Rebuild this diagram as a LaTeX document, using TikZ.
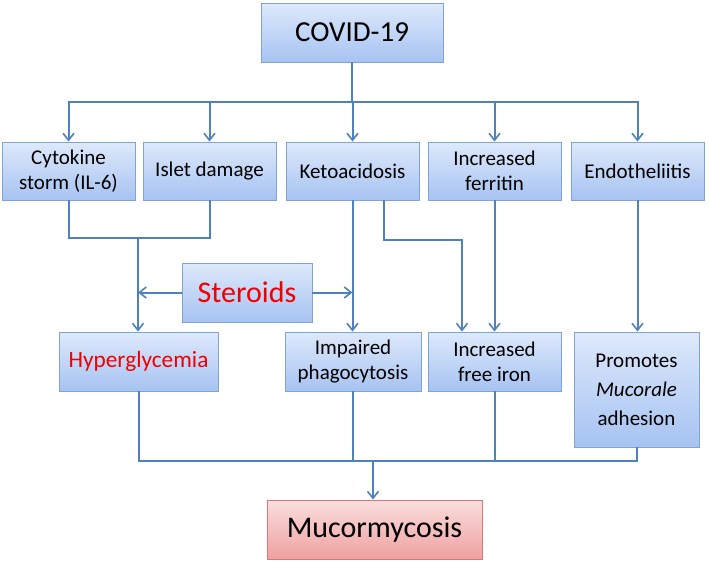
\documentclass[tikz,border=0pt]{standalone}
\usepackage{fontspec}
\setmainfont{Carlito}
\usetikzlibrary{arrows.meta}
\definecolor{linkblue}{RGB}{79,129,189}
\definecolor{boxtop}{RGB}{222,233,251}
\definecolor{boxbot}{RGB}{166,195,242}
\definecolor{boxline}{RGB}{128,163,210}
\definecolor{redtop}{RGB}{250,222,222}
\definecolor{redbot}{RGB}{240,160,160}
\definecolor{redline}{RGB}{214,120,120}
\definecolor{txtred}{RGB}{240,0,0}
\begin{document}
\begin{tikzpicture}[x=1pt,y=-1pt,
  bluebox/.style={draw=boxline,line width=0.9pt,top color=boxtop,bottom color=boxbot,align=center,inner sep=0pt,
    minimum width=133pt,minimum height=58pt,font=\fontsize{21}{25}\selectfont},
  pinkbox/.style={bluebox,draw=redline,top color=redtop,bottom color=redbot},
  link/.style={draw=linkblue,line width=2pt},
  arr/.style={link,-{Straight Barb[length=7pt,width=11pt,line width=1.6pt]}}]
  \useasboundingbox (0,0) rectangle (709,562);
  % boxes 
  \node[bluebox,minimum width=182pt,minimum height=59pt,font=\fontsize{29}{33}\selectfont] (covid) at (352,32.5) {COVID-19};
  \node[bluebox] (cyto) at (68.5,171) {Cytokine\\storm (IL-6)};
  \node[bluebox] (islet) at (209.5,171) {Islet damage};
  \node[bluebox] (keto) at (352.5,171) {Ketoacidosis};
  \node[bluebox] (ferr) at (494.5,171) {Increased\\ferritin};
  \node[bluebox] (endo) at (637.5,171) {Endotheliitis};
  \node[bluebox,minimum width=130pt,minimum height=59pt,font=\fontsize{30}{34}\selectfont,text=txtred] (steroids) at (247,292.5) {Steroids};
  \node[bluebox,minimum width=159pt,minimum height=59pt,font=\fontsize{23.3}{27}\selectfont,text=txtred] (hyper) at (138.5,361.5) {Hyperglycemia};
  \node[bluebox,minimum width=136pt,minimum height=59pt] (impaired) at (353,361.5) {Impaired\\phagocytosis};
  \node[bluebox,minimum height=59pt] (iron) at (494.5,361.5) {Increased\\free iron};
  \node[bluebox,minimum width=125pt,minimum height=115pt,font=\fontsize{21}{29}\selectfont] (promo) at (636.5,389.5) {Promotes\\\textit{Mucorale}\\adhesion};
  \node[pinkbox,minimum width=215pt,minimum height=59pt,font=\fontsize{30}{34}\selectfont] (mucor) at (374.5,529.5) {Mucormycosis};
  % joints 
  \coordinate (split) at (352,102);
  \coordinate (join1) at (138,238);
  \coordinate (ketobend) at (384,240);
  \coordinate (merge) at (373,461);
  % from COVID-19 
  \draw[link] (covid.south) -- (split);
  \foreach \n in {cyto,islet,keto,ferr,endo} \draw[arr] (split) -| (\n.north);
  % to Hyperglycemia 
  \draw[link] (cyto.south) |- (join1);
  \draw[link] (islet.south) |- (join1);
  \draw[arr] (join1) -- (join1 |- hyper.north);
  \draw[arr] (steroids.west) -- (steroids.west -| join1);
  \draw[arr] (steroids.east) -- (steroids.east -| keto.south);
  % to the lower row 
  \draw[arr] (keto.south) -- (keto.south |- impaired.north);
  \draw[arr] ([xshift=31.5pt]keto.south) |- (ketobend) -| ([xshift=-32.5pt]iron.north);
  \draw[arr] (ferr.south) -- (iron.north);
  \draw[arr] (endo.south) -- (endo.south |- promo.north);
  % to Mucormycosis 
  \draw[link] (hyper.south) |- (merge) -| (promo.south);
  \draw[link] (impaired.south) -- (impaired.south |- merge);
  \draw[link] (iron.south) -- (iron.south |- merge);
  \draw[arr] (merge) -- (merge |- mucor.north);
\end{tikzpicture}
\end{document}
